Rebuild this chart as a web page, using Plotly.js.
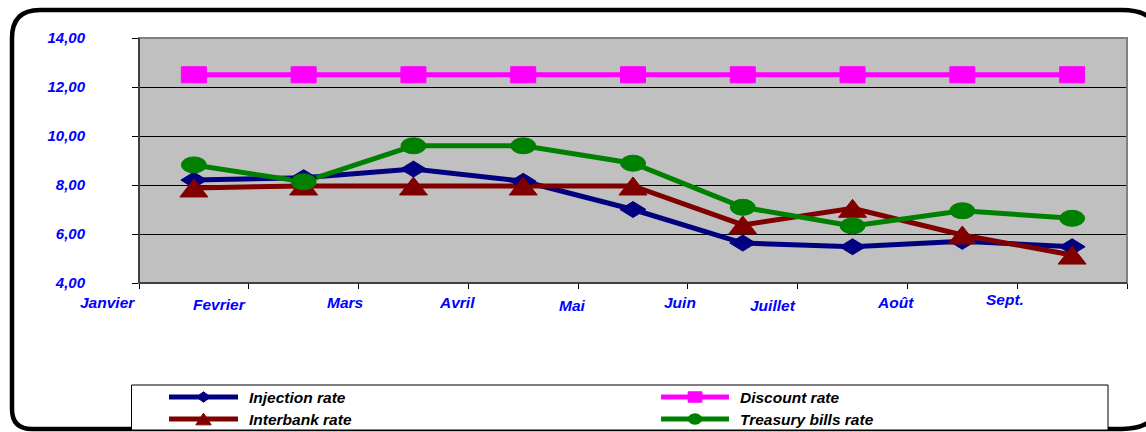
<!DOCTYPE html>
<html>
<head>
<meta charset="utf-8">
<script src="https://cdn.plot.ly/plotly-3.0.1.min.js"></script>
<style>
  html, body { margin: 0; padding: 0; background: #ffffff; }
  #chart { width: 1146px; height: 432px; }
</style>
</head>
<body>
<div id="chart"></div>
<script>
// Monthly rates
const months = ['Janvier', 'Fevrier', 'Mars', 'Avril', 'Mai', 'Juin', 'Juillet', 'Août', 'Sept.'];
const injectionRate = [8.2, 8.3, 8.65, 8.15, 7.0, 5.63, 5.48, 5.7, 5.48];
const discountRate = [12.5, 12.5, 12.5, 12.5, 12.5, 12.5, 12.5, 12.5, 12.5];
const interbankRate = [7.88, 7.96, 7.96, 7.96, 7.96, 6.37, 7.05, 5.96, 5.14];
const treasuryRate = [8.82, 8.13, 9.6, 9.6, 8.89, 7.09, 6.33, 6.95, 6.64];
const seriesNames = ['Injection rate', 'Discount rate', 'Interbank rate', 'Treasury bills rate'];

// Page geometry (pixels)
const W = 1146, H = 432;
const M = { l: 139, r: 19, t: 38, b: 149 };
const PW = W - M.l - M.r, PH = H - M.t - M.b;
const px = x => (x - M.l) / PW;          // pixel x -> paper
const py = y => (H - M.b - y) / PH;      // pixel y -> paper

// Month label offsets from each point, in pixels
const labelShift = [-86, -84, -68, -66, -61, -63, -80, -67, -67];
const labelDrop = [0, 2, 0, 0, 3, 0, 3, 0, -3];

const series = [
  { name: seriesNames[0], values: injectionRate, color: '#000080', marker: 'diamond' },
  { name: seriesNames[1], values: discountRate, color: '#FF00FF', marker: 'square' },
  { name: seriesNames[2], values: interbankRate, color: '#800000', marker: 'triangle' },
  { name: seriesNames[3], values: treasuryRate, color: '#008000', marker: 'circle' }
];

// Marker outline paths (pixel offsets, y up)
function markerShape(kind, sx, sy) {
  if (kind === 'diamond') return { type: 'path', path: `M${-13*sx},0 L0,${8*sy} L${13*sx},0 L0,${-8*sy} Z` };
  if (kind === 'triangle') return { type: 'path', path: `M${-14*sx},${-9*sy} L${14*sx},${-9*sy} L0,${9*sy} Z` };
  if (kind === 'square') return { type: 'rect', x0: -12.5*sx, x1: 12.5*sx, y0: -8*sy, y1: 8*sy };
  return { type: 'circle', x0: -12.5*sx, x1: 12.5*sx, y0: -8*sy, y1: 8*sy };
}

const idx = months.map((_, i) => i);

const traces = series.map(s => ({
  type: 'scatter',
  mode: 'lines',
  x: idx,
  y: s.values,
  name: s.name,
  showlegend: false,
  hoverinfo: 'skip',
  line: { color: s.color, width: 5 }
}));

const shapes = [];

// Outer rounded frame
const fr = { l: 12, t: 10, r: 1164, b: 429 };
const framePath = [
  `M${px(fr.l)},${py(fr.t + 28)}`,
  `Q${px(fr.l)},${py(fr.t)} ${px(fr.l + 28)},${py(fr.t)}`,
  `L${px(fr.r - 42)},${py(fr.t)}`,
  `Q${px(fr.r)},${py(fr.t)} ${px(fr.r)},${py(fr.t + 42)}`,
  `L${px(fr.r)},${py(fr.b - 42)}`,
  `Q${px(fr.r)},${py(fr.b)} ${px(fr.r - 42)},${py(fr.b)}`,
  `L${px(fr.l + 20)},${py(fr.b)}`,
  `Q${px(fr.l)},${py(fr.b)} ${px(fr.l)},${py(fr.b - 20)}`,
  'Z'
].join(' ');
shapes.push({ type: 'path', xref: 'paper', yref: 'paper', path: framePath,
  line: { color: '#000000', width: 4.5 }, layer: 'below' });

// Plot area border (top/right lighter gray)
shapes.push({ type: 'rect', xref: 'paper', yref: 'paper', x0: 0, x1: 1, y0: 0, y1: 1,
  line: { color: '#808080', width: 2 }, layer: 'above' });
shapes.push({ type: 'line', xref: 'paper', yref: 'paper', x0: 0, x1: 0, y0: 0, y1: 1,
  line: { color: '#404040', width: 2 }, layer: 'above' });
shapes.push({ type: 'line', xref: 'paper', yref: 'paper', x0: 0, x1: 1, y0: 0, y1: 0,
  line: { color: '#404040', width: 2 }, layer: 'above' });

// Markers at each data point
series.forEach(s => {
  s.values.forEach((v, i) => {
    shapes.push(Object.assign({
      xref: 'x', yref: 'y', xsizemode: 'pixel', ysizemode: 'pixel',
      xanchor: i, yanchor: v,
      fillcolor: s.color, line: { color: s.color, width: 1 }, layer: 'above'
    }, markerShape(s.marker, 1, 1)));
  });
});

// Legend box
const lg = { l: 131.5, t: 385, r: 1108, b: 430 };
shapes.push({ type: 'rect', xref: 'paper', yref: 'paper',
  x0: px(lg.l), x1: px(lg.r), y0: py(lg.b), y1: py(lg.t),
  line: { color: '#000000', width: 1 }, fillcolor: '#ffffff', layer: 'above' });

const legendSlots = [
  { x0: 169, x1: 238, y: 397, tx: 247 },
  { x0: 661, x1: 729, y: 397, tx: 738 },
  { x0: 169, x1: 238, y: 419, tx: 247 },
  { x0: 661, x1: 729, y: 419, tx: 738 }
];

const annotations = [];

series.forEach((s, k) => {
  const slot = legendSlots[k];
  shapes.push({ type: 'line', xref: 'paper', yref: 'paper',
    x0: px(slot.x0), x1: px(slot.x1), y0: py(slot.y), y1: py(slot.y),
    line: { color: s.color, width: 5 }, layer: 'above' });
  shapes.push(Object.assign({
    xref: 'paper', yref: 'paper', xsizemode: 'pixel', ysizemode: 'pixel',
    xanchor: px((slot.x0 + slot.x1) / 2), yanchor: py(slot.y),
    fillcolor: s.color, line: { color: s.color, width: 1 }, layer: 'above'
  }, markerShape(s.marker, 0.55, 0.65)));
  annotations.push({
    xref: 'paper', yref: 'paper', x: px(slot.tx), y: py(slot.y),
    xanchor: 'left', yanchor: 'middle', showarrow: false,
    text: s.name,
    font: { family: 'Liberation Sans, Arial, sans-serif', size: 15.5, color: '#000000', weight: 'bold', style: 'italic' }
  });
});

// Month labels under the axis
months.forEach((m, i) => {
  annotations.push({
    xref: 'x', yref: 'paper', x: i, y: 0,
    xanchor: 'center', yanchor: 'top',
    xshift: labelShift[i], yshift: -9 - labelDrop[i],
    showarrow: false, text: m,
    font: { family: 'Liberation Sans, Arial, sans-serif', size: 15.5, color: '#0000FF', weight: 'bold', style: 'italic' }
  });
});

const layout = {
  width: W,
  height: H,
  margin: M,
  paper_bgcolor: 'rgba(0,0,0,0)',
  plot_bgcolor: '#C0C0C0',
  separators: ', ',
  showlegend: false,
  xaxis: {
    type: 'linear',
    range: [-0.5, 8.5],
    tickmode: 'array',
    tickvals: [-0.5, 0.5, 1.5, 2.5, 3.5, 4.5, 5.5, 6.5, 7.5, 8.5],
    showticklabels: false,
    ticks: 'outside',
    ticklen: 5,
    tickwidth: 1,
    tickcolor: '#000000',
    showgrid: false,
    zeroline: false,
    showline: false,
    fixedrange: true
  },
  yaxis: {
    range: [4, 14],
    dtick: 2,
    tick0: 4,
    tickformat: '.2f',
    ticks: 'outside',
    ticklen: 6,
    tickwidth: 1,
    tickcolor: '#000000',
    ticklabelstandoff: 44,
    tickfont: { family: 'Liberation Sans, Arial, sans-serif', size: 15, color: '#0000FF', weight: 'bold', style: 'italic' },
    showgrid: true,
    gridcolor: '#000000',
    gridwidth: 1,
    zeroline: false,
    showline: false,
    fixedrange: true
  },
  shapes: shapes,
  annotations: annotations
};

Plotly.newPlot('chart', traces, layout, { staticPlot: true, displayModeBar: false });
</script>
</body>
</html>
